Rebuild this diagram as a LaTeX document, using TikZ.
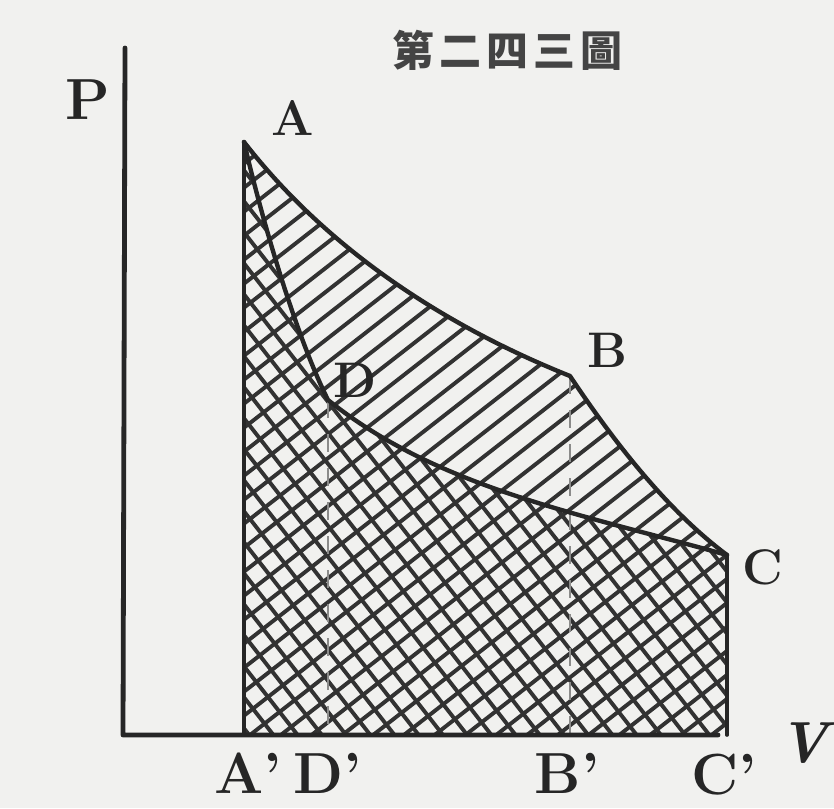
\documentclass[tikz,border=0pt]{standalone}
\usepackage{fontspec}
\newfontfamily\cjk{Noto Sans CJK TC}
\definecolor{bgc}{RGB}{241,241,239}
\definecolor{inkc}{RGB}{38,38,38}
\definecolor{hatchc}{RGB}{50,50,50}
\begin{document}
\begin{tikzpicture}[x=1pt,y=-1pt,
  ink/.style={draw=inkc, line cap=round, line join=round},
  curve/.style={ink, line width=4.4pt},
  axis/.style={ink, line width=4.8pt},
  edge/.style={ink, line width=3.6pt},
  hatchline/.style={draw=hatchc, line width=3.9pt},
  dropline/.style={draw=inkc!50!bgc, line width=1.8pt, dash pattern=on 18pt off 16pt},
  lbl/.style={text=inkc, font=\fontsize{50}{50}\selectfont\bfseries, inner sep=0pt},
  biglbl/.style={text=inkc, font=\fontsize{58}{58}\selectfont\bfseries, inner sep=0pt},
  titlelbl/.style={text=inkc!85!bgc, font=\fontsize{42}{42}\selectfont\cjk\bfseries, inner sep=0pt}]
\fill[bgc] (0,0) rectangle (834,808);
\useasboundingbox (0,0) rectangle (834,808);

% key points
\coordinate (A) at (244,142);
\coordinate (B) at (570,376);
\coordinate (C) at (727,555);
\coordinate (D) at (328,400);
\coordinate (Ap) at (244,735);
\coordinate (Dp) at (328,735);
\coordinate (Bp) at (570,735);
\coordinate (Cp) at (727,735);
\coordinate (O) at (123,735);
\coordinate (Ptop) at (125,48);
\coordinate (Vend) at (718,735);

% single hatching over whole area under A-B-C
\begin{scope}
  \clip (A) .. controls (335,259) and (460,332) .. (B)
        .. controls (620,451) and (672,514) .. (C) -- (Cp) -- (Ap) -- cycle;
  \foreach \b in {150,174,...,1200}
    \draw[hatchline] (200,\b) -- ({800},{\b-468});
\end{scope}

% cross hatching under A-D-C
\begin{scope}
  \clip (A) -- (Ap) -- (Cp) -- (C) .. controls (577,513) and (438,488) .. (D)
        .. controls (298,340) and (265,232) .. (A) -- cycle;
  \foreach \b in {-320,-289,...,720}
    \draw[hatchline] (200,\b) -- ({800},{\b+768});
\end{scope}

% drop lines
\draw[dropline] (D) -- (Dp);
\draw[dropline] (B) -- (Bp);

% outlines
\draw[curve] (A) .. controls (335,259) and (460,332) .. (B)
      .. controls (620,451) and (672,514) .. (C);
\draw[curve] (A) .. controls (265,232) and (298,340) .. (D)
      .. controls (438,488) and (577,513) .. (C);
\draw[edge] (A) -- (Ap);
\draw[edge] (C) -- (Cp);
\draw[axis] (Ptop) -- (O) -- (Vend);

% labels
\node[titlelbl] (title) at (507,50) {第\kern5pt二\kern5pt四\kern5pt三\kern5pt圖};
\node[biglbl] (lP) at (88,100) {P};
\node[lbl] (lA) at (293,118) {A};
\node[lbl] (lB) at (607,350) {B};
\node[lbl] (lC) at (763,567) {C};
\node[lbl] (lD) at (355,380) {D};
\node[biglbl] (lAp) at (248,773) {A’};
\node[biglbl] (lDp) at (328,773) {D’};
\node[biglbl] (lBp) at (567,773) {B’};
\node[biglbl] (lCp) at (724,775) {C’};
\node[biglbl, font=\fontsize{58}{58}\selectfont\bfseries\itshape] (lV) at (804,743) {V};
\end{tikzpicture}
\end{document}
